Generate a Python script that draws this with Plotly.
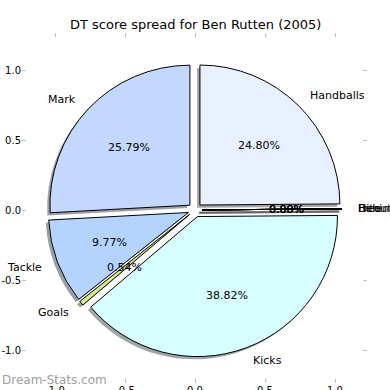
import math
import plotly.graph_objects as go

# ---- data ----
categories = ["Handballs", "Hitout", "Free", "Behind", "Kicks", "Goals", "Tackle", "Mark"]
values = [24.80, 0.0, 0.0, 0.0, 38.82, 0.54, 9.77, 25.79]
pct_labels = ["24.80%", "0.00%", "0.00%", "0.00%", "38.82%", "0.54%", "9.77%", "25.79%"]
slice_colors = ["#e8f0ff", "#e0ffe0", "#ffe8e8", "#f0f0d0", "#d8ffff", "#d4e88c", "#b4d4ff", "#c4d8ff"]
tick_vals = [-1.0, -0.5, 0.0, 0.5, 1.0]
tick_text = ["-1.0", "-0.5", "0.0", "0.5", "1.0"]
title_text = "DT score spread for Ben Rutten (2005)"
watermark = "Dream-Stats.com"

explode = 0.05
pct_dist = 0.6
label_dist = 1.1
shadow_off = -0.02

# ---- layout geometry ----
W, H = 390, 390
ml, mr, mt, mb = 22, 23, 33, 7
px_per_unit = 140.0
cx_px, cy_px = 195.0, 210.0
xmin = (ml - cx_px) / px_per_unit
xmax = (W - mr - cx_px) / px_per_unit
ymax = (cy_px - mt) / px_per_unit
ymin = (cy_px - (H - mb)) / px_per_unit
plot_w = W - ml - mr
plot_h = H - mt - mb


def dom_x(v):
    return (v - xmin) / (xmax - xmin)


def dom_y(v):
    return (v - ymin) / (ymax - ymin)


half = 1.0 + explode  # pie box half-size in data units


def domain(ox, oy):
    return dict(x=[dom_x(ox - half), dom_x(ox + half)],
                y=[dom_y(oy - half), dom_y(oy + half)])


def shadow_col(hexc):
    r = int(hexc[1:3], 16); g = int(hexc[3:5], 16); b = int(hexc[5:7], 16)
    f = lambda c: int(round(0.5 * 255 + 0.5 * 0.3 * c))
    return "rgb(%d,%d,%d)" % (f(r), f(g), f(b))


n = len(values)
fig = go.Figure()

# shadow
fig.add_trace(go.Pie(
    values=values, labels=categories, sort=False, direction="clockwise", rotation=0,
    pull=[explode] * n, textinfo="none", hoverinfo="skip", showlegend=False,
    marker=dict(colors=[shadow_col(c) for c in slice_colors], line=dict(width=0)),
    domain=domain(shadow_off, shadow_off)))

# main pie
fig.add_trace(go.Pie(
    values=values, labels=categories, sort=False, direction="clockwise", rotation=0,
    pull=[explode] * n, textinfo="none", hoverinfo="label+percent", showlegend=False,
    marker=dict(colors=slice_colors, line=dict(color="black", width=1)),
    domain=domain(0, 0)))

# text labels and zero-width wedges (drawn as radial lines, like the original)
total = sum(values)
cum = 0.0
annotations = []
for cat, v, pl in zip(categories, values, pct_labels):
    frac = v / total
    theta = math.radians(90 - 360 * (cum + frac / 2))
    cum += frac
    ox = explode * math.cos(theta)
    oy = explode * math.sin(theta)
    if v == 0:
        ex = ox + math.cos(theta)
        ey = oy + math.sin(theta)
        fig.add_trace(go.Scatter(x=[ox + shadow_off, ex + shadow_off], y=[oy + shadow_off, ey + shadow_off],
                                 mode="lines", line=dict(color="rgba(80,80,80,0.5)", width=2),
                                 showlegend=False, hoverinfo="skip"))
        fig.add_trace(go.Scatter(x=[ox, ex], y=[oy, ey], mode="lines",
                                 line=dict(color="black", width=1),
                                 showlegend=False, hoverinfo="skip"))
    px = ox + pct_dist * math.cos(theta)
    py = oy + pct_dist * math.sin(theta)
    lx = ox + label_dist * math.cos(theta)
    ly = oy + label_dist * math.sin(theta)
    annotations.append(dict(x=px, y=py, xref="x", yref="y", text=pl, showarrow=False,
                            xanchor="center", yanchor="middle",
                            font=dict(size=11, color="black", family="DejaVu Sans")))
    annotations.append(dict(x=lx, y=ly, xref="x", yref="y", text=cat, showarrow=False,
                            xanchor="left" if lx > 0 else "right", yanchor="middle",
                            font=dict(size=11, color="black", family="DejaVu Sans")))

# watermark (bottom-left) and title, positioned in paper coords
annotations.append(dict(x=(0 - ml) / plot_w, y=((H - mb) - 380) / plot_h, xref="paper", yref="paper",
                        text=watermark, showarrow=False, xanchor="left", yanchor="middle",
                        font=dict(size=12, color="#a0a0a0", family="DejaVu Sans")))
annotations.append(dict(x=(195 - ml) / plot_w, y=((H - mb) - 25) / plot_h, xref="paper", yref="paper",
                        text=title_text, showarrow=False, xanchor="center", yanchor="middle",
                        font=dict(size=13, color="black", family="DejaVu Sans")))

fig.update_layout(
    width=W, height=H,
    margin=dict(l=ml, r=mr, t=mt, b=mb, pad=0, autoexpand=False),
    paper_bgcolor="white", plot_bgcolor="white",
    annotations=annotations,
    font=dict(family="DejaVu Sans"),
)
axis_common = dict(showgrid=False, zeroline=False, showline=False, ticks="inside", ticklen=4,
                   tickcolor="#c0c0c0", mirror="ticks", tickvals=tick_vals, ticktext=tick_text,
                   automargin=False,
                   tickfont=dict(size=10, color="black", family="DejaVu Sans"))
fig.update_xaxes(range=[xmin, xmax], **axis_common)
fig.update_yaxes(range=[ymin, ymax], **axis_common)

fig.write_html("out.html",
               config={"displayModeBar": False},
               post_script="document.body.style.margin='0';document.body.style.padding='0';"
                           "document.body.style.overflow='hidden';")
